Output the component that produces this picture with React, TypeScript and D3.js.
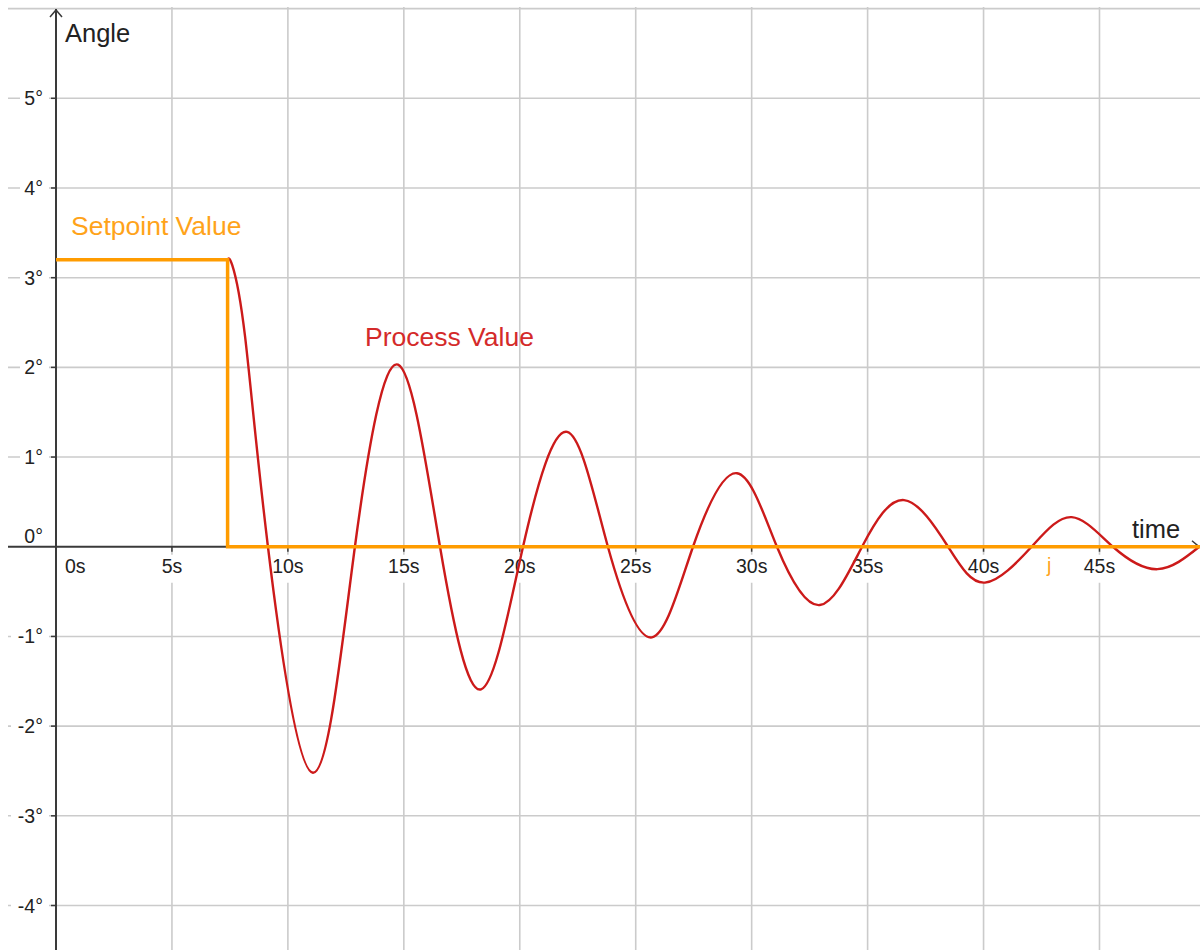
import * as d3 from 'd3'

const W = 1200
const H = 950
const FONT = "'Liberation Sans', Arial, sans-serif"

// axis ticks and labels
const TIME_TICKS = [0, 5, 10, 15, 20, 25, 30, 35, 40, 45]
const TIME_LABELS = ['0s', '5s', '10s', '15s', '20s', '25s', '30s', '35s', '40s', '45s']
const ANGLE_TICKS = [-4, -3, -2, -1, 0, 1, 2, 3, 4, 5]
const ANGLE_LABELS = ['-4°', '-3°', '-2°', '-1°', '0°', '1°', '2°', '3°', '4°', '5°']
const ANGLE_GRID = [-4, -3, -2, -1, 1, 2, 3, 4, 5, 6]

// setpoint step (orange)
const setpointTime = [0, 7.4, 7.4, 49.5]
const setpointAngle = [3.2, 3.2, 0, 0]

// process value (red)
const processTime = [7.4, 7.6, 8.15, 9.14, 11.08, 12.89, 14.75, 16.56, 18.33, 20.14, 22.04, 23.8, 25.7, 27.47, 29.37, 31.09, 32.94, 34.76, 36.57, 38.47, 40.06, 42.07, 43.8, 45.58, 47.5, 49.3]
const processAngle = [3.2, 3.14, 2.35, 0, -2.52, 0, 2.03, 0, -1.59, 0, 1.28, 0, -1.01, 0, 0.82, 0, -0.65, 0, 0.52, 0, -0.4, 0, 0.33, 0, -0.25, 0]

export default function App() {
  const x = d3.scaleLinear().domain([0, 45]).range([56, 1099.5])
  const y = d3.scaleLinear().domain([-4, 5]).range([905.5, 98.3])
  const x0 = x(0)
  const y0 = y(0)

  const setPts: [number, number][] = setpointTime.map((t, i) => [t, setpointAngle[i]])
  const procPts: [number, number][] = processTime.map((t, i) => [t, processAngle[i]])
  const procPath = d3.line<[number, number]>()
    .x(d => x(d[0])).y(d => y(d[1]))
    .curve(d3.curveNatural)(procPts) || ''
  const setPath = d3.line<[number, number]>()
    .x(d => x(d[0])).y(d => y(d[1]))(setPts) || ''

  const gridColor = '#cbcbcb'
  const axisColor = '#3a3a3a'

  return (
    <svg width={W} height={H} style={{ position: 'absolute', left: 0, top: 0, display: 'block', background: '#fff' }}
      fontFamily={FONT}>
      {/* grid */}
      {TIME_TICKS.filter(t => t !== 0).map(t => (
        <line key={'vx' + t} x1={x(t)} x2={x(t)} y1={7} y2={H} stroke={gridColor} strokeWidth={1.6} />
      ))}
      {ANGLE_GRID.map(a => (
        <line key={'hy' + a} x1={8} x2={W} y1={y(a)} y2={y(a)} stroke={gridColor} strokeWidth={1.6} />
      ))}

      {/* label backgrounds */}
      {TIME_TICKS.map(t => (
        <rect key={'bx' + t} x={t === 0 ? x(t) + 6 : x(t) - 20} y={y0 + 8} width={40} height={28} fill="#fff" />
      ))}
      {ANGLE_TICKS.filter(a => a !== 0).map(a => (
        <rect key={'by' + a} x={a < 0 ? 11 : 20} y={y(a) - 11} width={a < 0 ? 38 : 29} height={22} fill="#fff" />
      ))}

      {/* axes */}
      <line x1={8} x2={W} y1={y0} y2={y0} stroke={axisColor} strokeWidth={2} />
      <line x1={x0} x2={x0} y1={9} y2={H} stroke={axisColor} strokeWidth={2} />
      <path d={`M${x0 - 6},${17} L${x0},${10} L${x0 + 6},${17}`} fill="none" stroke={axisColor} strokeWidth={1.5} />
      <path d={`M${W - 8},${y0 - 6} L${W - 1},${y0} L${W - 8},${y0 + 6}`} fill="none" stroke={axisColor} strokeWidth={1.5} />

      {/* ticks */}
      {TIME_TICKS.filter(t => t !== 0).map(t => (
        <line key={'tx' + t} x1={x(t)} x2={x(t)} y1={y0} y2={y0 + 5} stroke={axisColor} strokeWidth={1.5} />
      ))}
      {ANGLE_TICKS.filter(a => a !== 0).map(a => (
        <line key={'ty' + a} x1={x0 - 5} x2={x0} y1={y(a)} y2={y(a)} stroke={axisColor} strokeWidth={1.5} />
      ))}

      {/* tick labels */}
      {TIME_TICKS.map((t, i) => (
        <text key={'lx' + t} x={t === 0 ? x(t) + 9 : x(t)} y={y0 + 26} fontSize={19.5} fill="#222"
          textAnchor={t === 0 ? 'start' : 'middle'}>{TIME_LABELS[i]}</text>
      ))}
      {ANGLE_TICKS.map((a, i) => (
        <text key={'ly' + a} x={43} y={a === 0 ? y0 - 4 : y(a) + 7} fontSize={19.5} fill="#222"
          textAnchor="end">{ANGLE_LABELS[i]}</text>
      ))}

      {/* axis titles */}
      <text x={65} y={42} fontSize={25.5} fill="#222">Angle</text>
      <text x={1132} y={538} fontSize={25.5} fill="#222">time</text>

      {/* series */}
      <path d={procPath} fill="none" stroke="#cc1a1a" strokeWidth={2.4} />
      <path d={setPath} fill="none" stroke="#ff9c00" strokeWidth={3.5} />

      <text x={71} y={235} fontSize={26.5} fill="#ffa31a">Setpoint Value</text>
      <text x={365} y={346} fontSize={26.5} fill="#d42a2a">Process Value</text>
      <text x={1047} y={572} fontSize={19.5} fill="#ffa31a">j</text>
    </svg>
  )
}
